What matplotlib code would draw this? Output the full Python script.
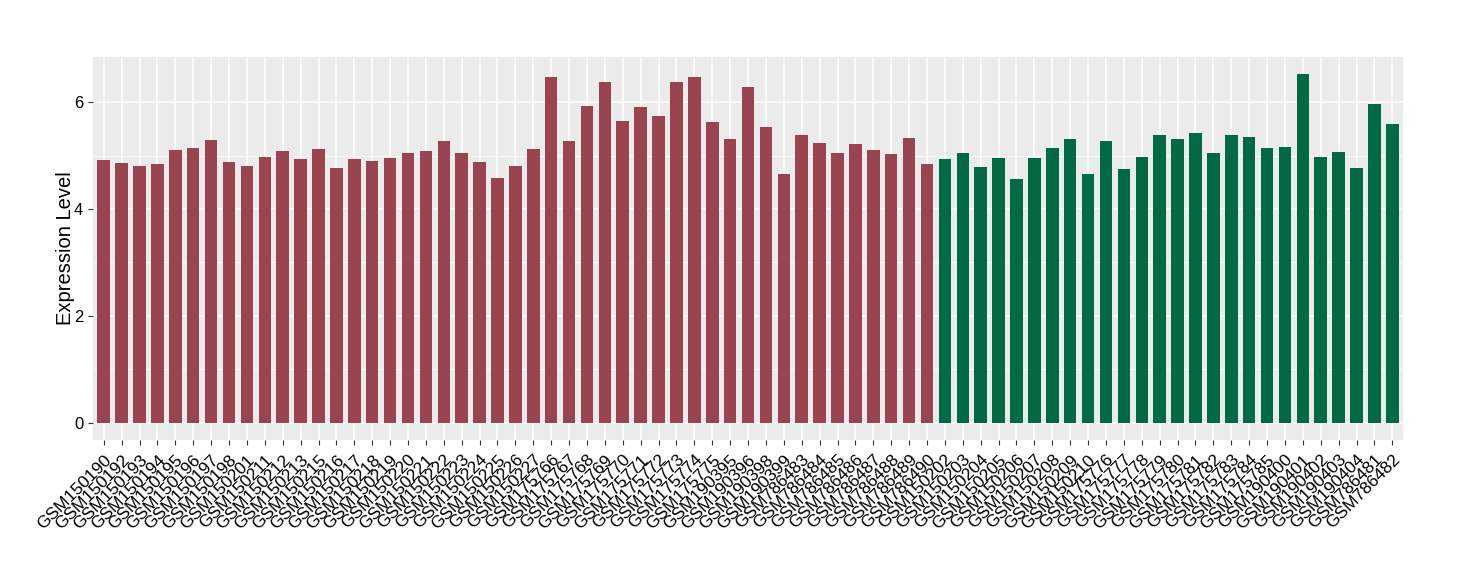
import matplotlib.pyplot as plt
from matplotlib.ticker import MultipleLocator

plt.rcParams['font.family'] = ['Liberation Sans', 'DejaVu Sans']

# amostras do grupo 1 (vermelho)
amostrasA = ["GSM150190", "GSM150192", "GSM150193", "GSM150194", "GSM150195",
             "GSM150196", "GSM150197", "GSM150198", "GSM150201", "GSM150211",
             "GSM150212", "GSM150213", "GSM150215", "GSM150216", "GSM150217",
             "GSM150218", "GSM150219", "GSM150220", "GSM150221", "GSM150222",
             "GSM150223", "GSM150224", "GSM150225", "GSM150226", "GSM150227",
             "GSM175766", "GSM175767", "GSM175768", "GSM175769", "GSM175770",
             "GSM175771", "GSM175772", "GSM175773", "GSM175774", "GSM175775",
             "GSM190395", "GSM190396", "GSM190398", "GSM190399",
             "GSM786483", "GSM786484", "GSM786485", "GSM786486", "GSM786487",
             "GSM786488", "GSM786489", "GSM786490"]
valoresA = [4.92, 4.86, 4.81, 4.84, 5.10, 5.14, 5.29, 4.88, 4.81, 4.97,
            5.09, 4.94, 5.12, 4.77, 4.94, 4.90, 4.96, 5.05, 5.09, 5.27,
            5.05, 4.88, 4.58, 4.81, 5.12,
            6.48, 5.27, 5.93, 6.37, 5.65, 5.91, 5.74, 6.37, 6.47, 5.63,
            5.31, 6.28, 5.53, 4.66,
            5.38, 5.24, 5.05, 5.22, 5.11, 5.03, 5.33, 4.84]

# amostras do grupo 2 (verde)
amostrasB = ["GSM150202", "GSM150203", "GSM150204", "GSM150205", "GSM150206",
             "GSM150207", "GSM150208", "GSM150209", "GSM150210",
             "GSM175776", "GSM175777", "GSM175778", "GSM175779", "GSM175780",
             "GSM175781", "GSM175782", "GSM175783", "GSM175784", "GSM175785",
             "GSM190400", "GSM190401", "GSM190402", "GSM190403", "GSM190404",
             "GSM786481", "GSM786482"]
valoresB = [4.94, 5.05, 4.79, 4.96, 4.56, 4.96, 5.14, 5.31, 4.66,
            5.27, 4.75, 4.97, 5.38, 5.31, 5.42, 5.05, 5.38, 5.35, 5.14,
            5.16, 6.52, 4.97, 5.07, 4.77, 5.96, 5.59]

corA = "#9A4452"
corB = "#006A45"

fig = plt.figure(figsize=(14.6, 5.8), dpi=100)
ax = fig.add_axes([0.0637, 0.241, 0.8973, 0.661])

nomes = amostrasA + amostrasB
valores = valoresA + valoresB
cores = [corA] * len(amostrasA) + [corB] * len(amostrasB)
pos = list(range(len(nomes)))

ax.set_facecolor("#EBEBEB")
ax.bar(pos, valores, width=0.7, color=cores, zorder=3)

ax.set_xlim(-0.6, len(nomes) - 0.4)
ax.set_ylim(-0.33, 6.85)
ax.yaxis.set_major_locator(MultipleLocator(2))
ax.yaxis.set_minor_locator(MultipleLocator(1))
ax.grid(which="major", color="white", linewidth=1.1, zorder=0)
ax.grid(which="minor", axis="y", color="white", linewidth=0.55, zorder=0)
ax.set_axisbelow(True)

for s in ax.spines.values():
    s.set_visible(False)

ax.set_xticks(pos)
ax.set_xticklabels(nomes, rotation=45, ha="right", rotation_mode="anchor", fontsize=12.5)
ax.tick_params(axis="both", which="major", length=3.5, color="#333333", labelcolor="black")
ax.tick_params(axis="x", pad=5)
ax.tick_params(axis="y", which="minor", length=0)
ax.tick_params(axis="y", labelsize=12)
ax.set_ylabel("Expression Level", fontsize=14.5, labelpad=-1)

plt.savefig("out.png", dpi=100)
